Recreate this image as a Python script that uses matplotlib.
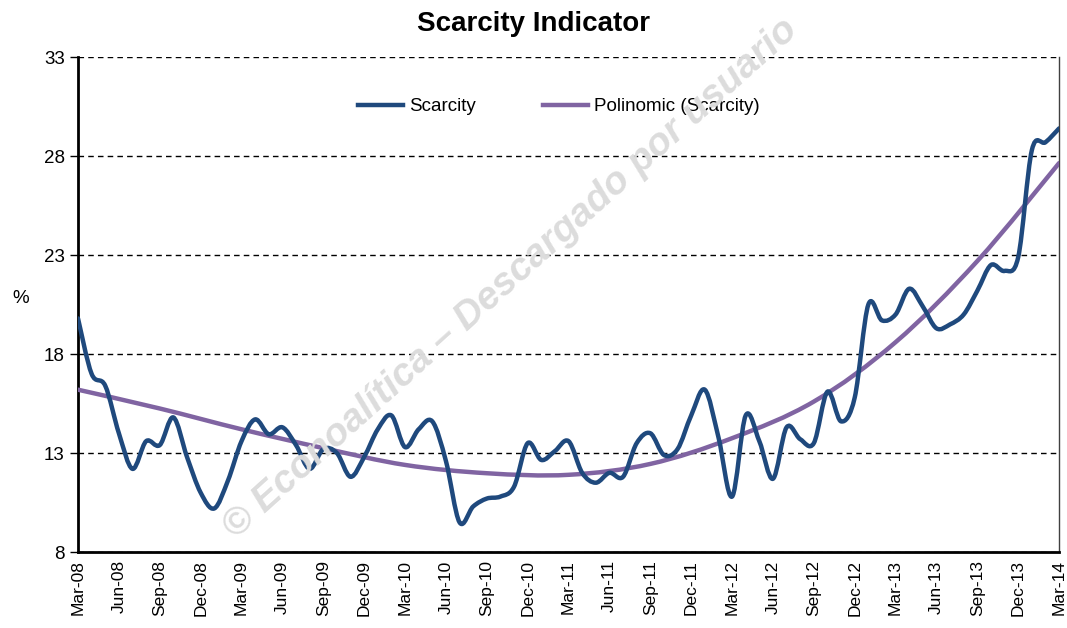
import numpy as np
import matplotlib
matplotlib.use("Agg")
import matplotlib.pyplot as plt
from matplotlib.path import Path
from matplotlib.patches import PathPatch
from matplotlib.lines import Line2D

plt.rcParams['font.family'] = ['Liberation Sans', 'DejaVu Sans']

# monthly values, Mar-08 .. Mar-14
scarcity = [19.8, 17.0, 16.4, 14.0, 12.2, 13.6, 13.4, 14.8, 12.8, 11.0,
            10.2, 11.6, 13.6, 14.7, 13.95, 14.3, 13.4, 12.2, 13.2, 13.0,
            11.8, 12.8, 14.2, 14.9, 13.3, 14.2, 14.6, 12.6, 9.5, 10.3,
            10.7, 10.8, 11.3, 13.5, 12.65, 13.1, 13.6, 12.0, 11.5, 12.0,
            11.8, 13.5, 14.0, 12.9, 13.2, 14.9, 16.2, 13.8, 10.8, 14.9,
            13.6, 11.7, 14.3, 13.7, 13.5, 16.1, 14.6, 15.8, 20.5, 19.7,
            20.0, 21.3, 20.4, 19.3, 19.5, 20.0, 21.2, 22.5, 22.2, 22.9,
            28.3, 28.7, 29.4]
# polynomial trend line, every 6 months
trend_months = [0, 6, 12, 18, 24, 30, 36, 42, 48, 54, 60, 66, 72]
trend_vals = [16.2, 15.25, 14.2, 13.25, 12.4, 11.98, 11.9, 12.45, 13.75,
              15.6, 18.6, 22.7, 27.65]
tick_labels = ['Mar-08', 'Jun-08', 'Sep-08', 'Dec-08', 'Mar-09', 'Jun-09', 'Sep-09',
               'Dec-09', 'Mar-10', 'Jun-10', 'Sep-10', 'Dec-10', 'Mar-11', 'Jun-11',
               'Sep-11', 'Dec-11', 'Mar-12', 'Jun-12', 'Sep-12', 'Dec-12', 'Mar-13',
               'Jun-13', 'Sep-13', 'Dec-13', 'Mar-14']
yticks = [8, 13, 18, 23, 28, 33]

blue = '#1F497D'
purple = '#8064A2'


def smooth_path(x, y):
    # bezier curve through the points, like Excel's smoothed line
    x = np.asarray(x, float)
    y = np.asarray(y, float)
    pts = np.column_stack([x, y])
    verts = [pts[0]]
    codes = [Path.MOVETO]
    n = len(pts)
    for i in range(n - 1):
        p0 = pts[max(i - 1, 0)]
        p1 = pts[i]
        p2 = pts[i + 1]
        p3 = pts[min(i + 2, n - 1)]
        c1 = p1 + (p2 - p0) / 6.0
        c2 = p2 - (p3 - p1) / 6.0
        verts += [c1, c2, p2]
        codes += [Path.CURVE4] * 3
    return Path(verts, codes)


months = np.arange(len(scarcity))

fig = plt.figure(figsize=(10.67, 6.28), dpi=100)
ax = fig.add_axes([0.0731, 0.121, 0.9195, 0.788])

ax.add_patch(PathPatch(smooth_path(trend_months, trend_vals), fill=False,
                       color=purple, lw=3.2, capstyle='round', zorder=3))
ax.add_patch(PathPatch(smooth_path(months, scarcity), fill=False, color=blue,
                       lw=3.2, capstyle='round', joinstyle='round', zorder=4))

ax.set_xlim(0, len(scarcity) - 1)
ax.set_ylim(8, 33)
ax.set_yticks(yticks)
ax.set_xticks(np.arange(0, len(scarcity), 3))
ax.set_xticklabels(tick_labels, rotation=90, fontsize=12.5)
ax.tick_params(axis='y', labelsize=13.5, length=6, width=1)
ax.tick_params(axis='x', length=0, pad=6)
ax.yaxis.grid(True, linestyle=(0, (4, 3)), color='black', lw=1)
ax.set_axisbelow(True)

ax.spines['top'].set_visible(False)
ax.spines['left'].set_linewidth(2)
ax.spines['bottom'].set_linewidth(2)
ax.spines['right'].set_linewidth(1)
ax.spines['right'].set_color('#404040')

fig.text(0.019, 0.525, '%', fontsize=13.5, ha='center', va='center')
fig.suptitle('Scarcity Indicator', fontsize=20, fontweight='bold', y=0.982)

handles = [Line2D([], [], color=blue, lw=3.2),
           Line2D([], [], color=purple, lw=3.2)]
ax.legend(handles, ['Scarcity', 'Polinomic (Scarcity)'], loc='center',
          bbox_to_anchor=(0.49, 0.90), ncol=2, frameon=False, fontsize=13.5,
          handlelength=2.4, handletextpad=0.3, columnspacing=3.6)

# watermark
fig.text(0.226, 0.13, '\u00a9 Econoal\u00edtica \u2013 Descargado por usuario',
         rotation=42, fontsize=28, fontweight='bold', style='italic',
         color='#dcdcdc', ha='left', va='bottom', rotation_mode='anchor', zorder=0)

fig.savefig('out.png', dpi=100)
